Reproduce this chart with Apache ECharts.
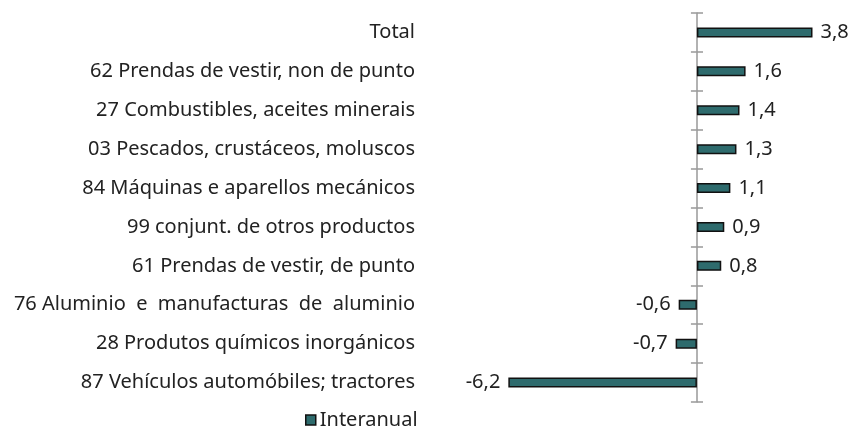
<!DOCTYPE html>
<html>
<head>
<meta charset="utf-8">
<script src="https://cdn.jsdelivr.net/npm/echarts@6/dist/echarts.min.js"></script>
<style>
  html, body { margin: 0; padding: 0; background: #fff; }
  #chart { width: 854px; height: 430px; }
</style>
</head>
<body>
<div id="chart"></div>
<script>
// categorías (de arriba a abaixo)
var categories = [
  "Total",
  "62 Prendas de vestir, non de punto",
  "27 Combustibles, aceites minerais",
  "03 Pescados, crustáceos, moluscos",
  "84 Máquinas e aparellos mecánicos",
  "99 conjunt. de otros productos",
  "61 Prendas de vestir, de punto",
  "76 Aluminio  e  manufacturas  de  aluminio",
  "28 Produtos químicos inorgánicos",
  "87 Vehículos automóbiles; tractores"
];
var interanual = [3.8, 1.6, 1.4, 1.3, 1.1, 0.9, 0.8, -0.6, -0.7, -6.2];

var font = "Noto Sans";
var chart = echarts.init(document.getElementById("chart"));

chart.setOption({
  animation: false,
  textStyle: { fontFamily: font },
  grid: { left: 484, right: 5, top: 13, bottom: 28, outerBoundsMode: "none" },
  legend: {
    data: ["Interanual"],
    left: 305,
    top: 410,
    padding: 0,
    icon: "rect",
    itemWidth: 10,
    itemHeight: 10,
    itemGap: 4,
    textStyle: { fontSize: 20, color: "#222", fontFamily: font, padding: [0, 0, 0, -1] },
    itemStyle: { borderColor: "#111", borderWidth: 1.5 }
  },
  xAxis: {
    type: "value",
    min: -7,
    max: 5,
    show: false
  },
  yAxis: [
    {
      type: "category",
      data: categories,
      inverse: true,
      axisLine: { onZero: true, lineStyle: { color: "#999", width: 1.5 } },
      axisTick: { show: true, length: 6, lineStyle: { color: "#999", width: 1.5 } },
      axisLabel: { margin: 69, fontSize: 20, color: "#222", fontFamily: font }
    },
    {
      type: "category",
      data: categories,
      inverse: true,
      position: "left",
      offset: -213,
      axisLine: { onZero: false, show: false },
      axisTick: { show: true, inside: true, length: 6, lineStyle: { color: "#999", width: 1.5 } },
      axisLabel: { show: false }
    }
  ],
  series: [
    {
      name: "Interanual",
      type: "bar",
      barWidth: 10,
      itemStyle: { color: "#2e6b6d", borderColor: "#111", borderWidth: 1.5 },
      label: {
        show: true,
        fontSize: 20,
        color: "#222",
        distance: 8,
        formatter: function (p) { return String(p.value).replace(".", ","); }
      },
      data: interanual.map(function (v) {
        return { value: v, label: { position: v < 0 ? "left" : "right" } };
      })
    }
  ]
});
</script>
</body>
</html>
